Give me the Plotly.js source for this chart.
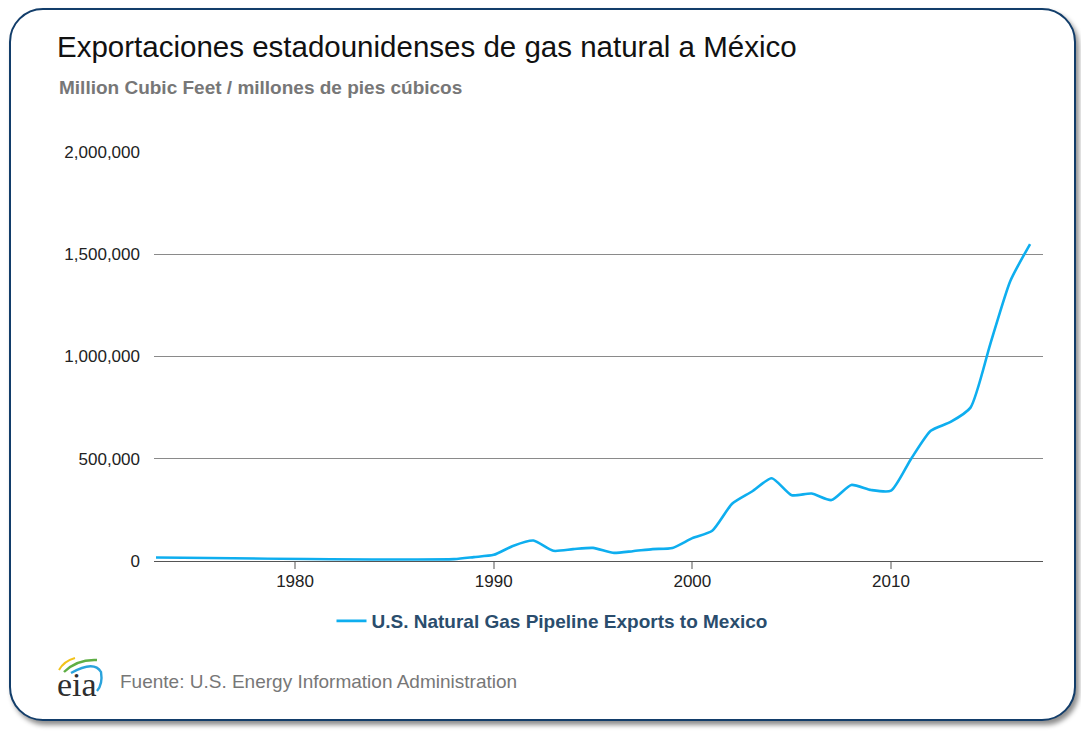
<!DOCTYPE html>
<html>
<head>
<meta charset="utf-8">
<script src="https://cdn.plot.ly/plotly-3.0.1.min.js"></script>
<style>
  html, body { margin: 0; padding: 0; background: #ffffff; }
  #card {
    position: absolute; left: 9px; top: 8px; width: 1063px; height: 709px;
    border: 2.5px solid #123d6a; border-radius: 34px;
    box-shadow: 3px 4px 5px rgba(0,0,0,0.45); background: #fff;
  }
  #chart { position: absolute; left: 0; top: 0; width: 1081px; height: 731px; }
</style>
</head>
<body>
<div id="card"></div>
<div id="chart"></div>
<script>
// Data (Million Cubic Feet)
const years = [1973, 1988, 1989, 1990, 1991, 1992, 1993, 1994, 1995, 1996, 1997, 1998, 1999,
  2000, 2001, 2002, 2003, 2004, 2005, 2006, 2007, 2008, 2009, 2010,
  2011, 2012, 2013, 2014, 2015, 2016, 2017];
const exportsMx = [17000, 9000, 19000, 30000, 75000, 100000, 50000, 58000, 64000, 40000, 48000, 58000, 64000,
  112000, 148000, 280000, 340000, 405000, 322000, 330000, 298000, 372000, 347000, 344000,
  498000, 637000, 680000, 750000, 1062000, 1368000, 1550000];
const seriesName = 'U.S. Natural Gas Pipeline Exports to Mexico';
const yTicks = [0, 500000, 1000000, 1500000, 2000000];
const xTicks = [1980, 1990, 2000, 2010];

// pixel -> paper helpers (plot area 154..1043 x, 152..561 y)
const L = 154, R = 1043, T = 152, B = 561;
const px = x => (x - L) / (R - L);
const py = y => (B - y) / (B - T);

const trace = {
  x: years, y: exportsMx, type: 'scatter', mode: 'lines', name: seriesName,
  line: { color: '#0eaeef', width: 2.6, shape: 'spline', smoothing: 0.6 },
  hoverinfo: 'x+y'
};

const font = 'Liberation Sans, Arial, Helvetica, sans-serif';

const layout = {
  width: 1081, height: 731,
  margin: { l: L, r: 1081 - R, t: T, b: 731 - B, pad: 0 },
  paper_bgcolor: 'rgba(0,0,0,0)', plot_bgcolor: 'rgba(0,0,0,0)',
  font: { family: font, color: '#222' },
  title: {
    text: 'Exportaciones estadounidenses de gas natural a México',
    font: { family: font, size: 29.5, color: '#111' },
    xref: 'container', yref: 'container', x: 57 / 1081, xanchor: 'left',
    y: 1 - 47 / 731, yanchor: 'middle'
  },
  xaxis: {
    range: [1972.9, 2017.65], tickvals: xTicks, ticktext: xTicks.map(String),
    showgrid: false, zeroline: false, showline: true, linecolor: '#555', linewidth: 1,
    ticks: 'outside', ticklen: 7, tickcolor: '#aaa', tickwidth: 1.5,
    ticklabelstandoff: -2,
    tickfont: { family: font, size: 17, color: '#222' }, fixedrange: true
  },
  yaxis: {
    range: [0, 2000000], tickvals: yTicks, tickformat: ',d',
    showgrid: true, gridcolor: '#8a8a8a', gridwidth: 1, zeroline: false, showline: false,
    ticks: '', ticklabelstandoff: 13,
    tickfont: { family: font, size: 17, color: '#222' }, fixedrange: true
  },
  showlegend: true,
  legend: {
    orientation: 'h', x: px(552), xanchor: 'center', y: py(621), yanchor: 'middle',
    font: { family: font, size: 19, color: '#2a4d6d', weight: 'bold' },
    bgcolor: 'rgba(0,0,0,0)'
  },
  annotations: [
    { text: 'Million Cubic Feet / millones de pies cúbicos', xref: 'paper', yref: 'paper',
      x: px(57), y: py(88), xanchor: 'left', yanchor: 'middle', showarrow: false,
      font: { family: font, size: 19, color: '#777', weight: 'bold' } },
    { text: 'Fuente: U.S. Energy Information Administration', xref: 'paper', yref: 'paper',
      x: px(118), y: py(681), xanchor: 'left', yanchor: 'middle', showarrow: false,
      font: { family: font, size: 19, color: '#777' } },
    { text: 'eia', xref: 'paper', yref: 'paper',
      x: px(77), y: py(684), xanchor: 'center', yanchor: 'middle', showarrow: false,
      font: { family: 'Liberation Serif, DejaVu Serif, serif', size: 34, color: '#2e2e2e' } }
  ],
  shapes: [
    { type: 'path', xref: 'paper', yref: 'paper',
      path: `M ${px(59)} ${py(670)} Q ${px(64)} ${py(661)} ${px(75)} ${py(658)}`,
      line: { color: '#f2c21b', width: 2 } },
    { type: 'path', xref: 'paper', yref: 'paper',
      path: `M ${px(64)} ${py(672)} Q ${px(77)} ${py(659)} ${px(97)} ${py(660)}`,
      line: { color: '#5fae45', width: 2.4 } },
    { type: 'path', xref: 'paper', yref: 'paper',
      path: `M ${px(71)} ${py(673)} Q ${px(94)} ${py(660)} ${px(101)} ${py(672)} Q ${px(103)} ${py(684)} ${px(97)} ${py(691)}`,
      line: { color: '#2aa3dc', width: 2.4 } }
  ]
};

Plotly.newPlot('chart', [trace], layout, { displayModeBar: false });
</script>
</body>
</html>
